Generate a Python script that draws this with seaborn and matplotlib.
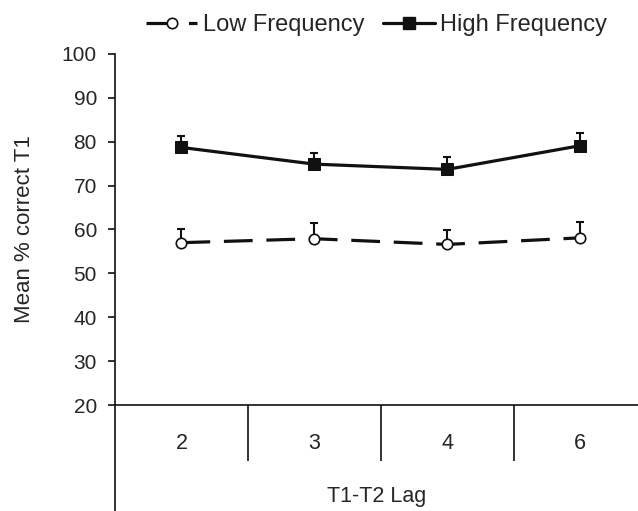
import pandas as pd
import numpy as np
import matplotlib.pyplot as plt
import seaborn as sns
from matplotlib.lines import Line2D

sns.set_style("ticks")
plt.rcParams["font.family"] = ["Liberation Sans", "DejaVu Sans"]

# DATA
lags = ["2", "3", "4", "6"]
low_mean = [57.0, 57.9, 56.6, 58.1]
low_err = [3.2, 3.5, 3.3, 3.7]
high_mean = [78.7, 74.9, 73.7, 79.1]
high_err = [2.7, 2.5, 2.8, 2.8]

pos = np.arange(len(lags))
df = pd.DataFrame({
    "pos": np.concatenate([pos, pos]),
    "mean": low_mean + high_mean,
    "err": low_err + high_err,
    "cond": ["Low Frequency"] * 4 + ["High Frequency"] * 4,
})

fig = plt.figure(figsize=(6.38, 5.11), dpi=100)
ax = fig.add_axes([115 / 638, 106 / 511, 523 / 638, 351 / 511])

# error bars (upper only)
for cond in ["Low Frequency", "High Frequency"]:
    sub = df[df["cond"] == cond]
    ax.errorbar(sub["pos"], sub["mean"],
                yerr=[np.zeros(len(sub)), sub["err"]],
                fmt="none", ecolor="#111111", elinewidth=1.5,
                capsize=3, capthick=1.5, zorder=2)

# LOW FREQUENCY
sns.lineplot(data=df[df["cond"] == "Low Frequency"], x="pos", y="mean",
             color="#111111", linewidth=2.3, linestyle=(0, (9, 4.3)),
             marker="o", markersize=7.5, markerfacecolor="white",
             markeredgecolor="#111111", markeredgewidth=1.2, ax=ax, zorder=3)

# HIGH FREQUENCY
sns.lineplot(data=df[df["cond"] == "High Frequency"], x="pos", y="mean",
             color="#111111", linewidth=2.3, linestyle="-",
             marker="s", markersize=8, markerfacecolor="#111111",
             markeredgecolor="#111111", ax=ax, zorder=3)

ax.set_ylim(20, 100)
ax.set_xlim(-0.5, 3.436)
ax.set_yticks(range(20, 101, 10))
ax.tick_params(axis="y", direction="out", length=5, width=1.2, pad=8,
               labelsize=15, color="#111111")

ax.set_xticks(pos)
ax.set_xticklabels(lags)
ax.set_xticks([0.5, 1.5, 2.5], minor=True)
ax.tick_params(axis="x", which="major", length=0, pad=20, labelsize=15.5)
ax.tick_params(axis="x", which="minor", direction="out", length=40,
               width=1.2, color="#111111")

for s in ["top", "right"]:
    ax.spines[s].set_visible(False)
for s in ["left", "bottom"]:
    ax.spines[s].set_color("#111111")
    ax.spines[s].set_linewidth(1.2)
ax.spines["left"].set_bounds(-4.5, 100)

ax.set_xlabel("T1-T2 Lag", fontsize=15.5, labelpad=15)
ax.set_ylabel("Mean % correct T1", fontsize=16, labelpad=19)

handles = [
    Line2D([], [], color="#111111", linewidth=2.3, linestyle=(0, (9, 4.3)),
           marker="o", markersize=7.5, markerfacecolor="white",
           markeredgewidth=1.2),
    Line2D([], [], color="#111111", linewidth=2.3, marker="s", markersize=8),
]
ax.legend(handles, ["Low Frequency", "High Frequency"], loc="lower center",
          bbox_to_anchor=(0.5, 1.025), ncol=2, frameon=False, fontsize=17,
          handlelength=2.2, handletextpad=0.25, columnspacing=0.75,
          borderaxespad=0)

fig.savefig("out.png", dpi=100)
